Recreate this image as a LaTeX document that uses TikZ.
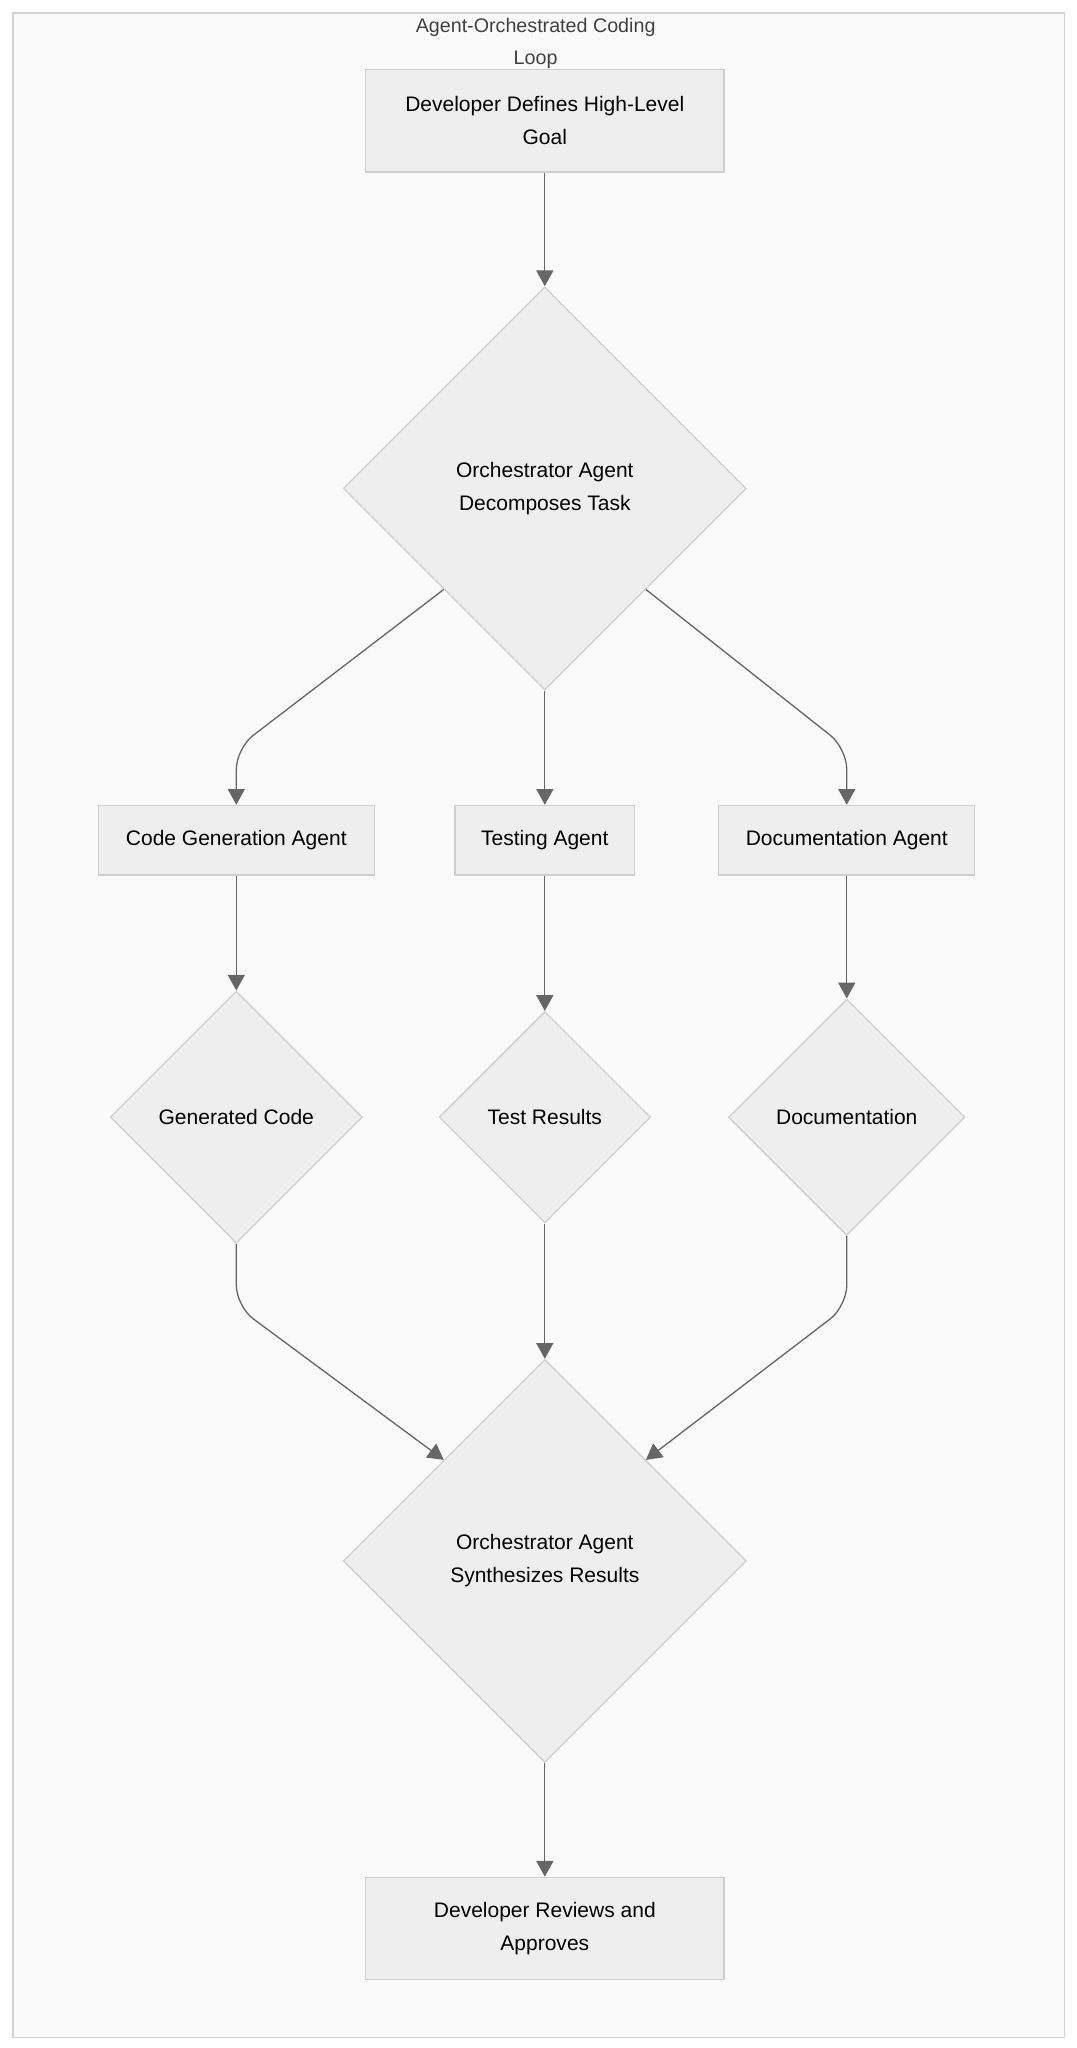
\documentclass[tikz,border=0pt]{standalone}
\usepackage{fontspec}
\setmainfont{Liberation Sans}
\usetikzlibrary{arrows.meta,positioning,shapes.geometric}
\definecolor{nodefill}{HTML}{EEEEEE}
\definecolor{nodeline}{HTML}{CFCFCF}
\definecolor{edgecol}{HTML}{666666}
\tikzset{
  box/.style={draw=nodeline,fill=nodefill,line width=1pt,align=center,inner sep=0pt},
  dia/.style={diamond,draw=nodeline,fill=nodefill,line width=1pt,align=center,inner sep=0pt,aspect=1},
  flow/.style={draw=edgecol,line width=1pt,rounded corners=16,-{Triangle[length=12pt,width=13pt]}}
}
\begin{document}
\begin{tikzpicture}[x=1pt,y=-1pt,font=\fontsize{16}{25}\selectfont]
% frame
\fill[white] (0,0) rectangle (820,1560);
\useasboundingbox (0,0) rectangle (820,1560);
\draw[fill=black!2,draw=black!18,line width=1pt] (10,10) rectangle (811,1552);
\node[align=center,text=black!75,font=\fontsize{15}{25}\selectfont] (title) at (408,33) {Agent-Orchestrated Coding\\Loop};
% nodes
\node[box,minimum width=273pt,minimum height=78pt] (goal) at (415,92) {Developer Defines High-Level\\Goal};
\node[dia,minimum width=307pt,minimum height=307pt] (decomp) at (415,372) {Orchestrator Agent\\ Decomposes Task};
\node[box,minimum width=210pt,minimum height=53pt] (codegen) at (180,640) {Code Generation Agent};
\node[box,minimum width=137pt,minimum height=53pt] (testing) at (415,640) {Testing Agent};
\node[box,minimum width=195pt,minimum height=53pt] (docs) at (645,640) {Documentation Agent};
\node[dia,minimum width=192pt,minimum height=192pt] (gencode) at (180,851) {Generated Code};
\node[dia,minimum width=161pt,minimum height=161pt] (results) at (415,851) {Test Results};
\node[dia,minimum width=180pt,minimum height=180pt] (docout) at (645,851) {Documentation};
\node[dia,minimum width=307pt,minimum height=307pt] (synth) at (415,1189) {Orchestrator Agent\\ Synthesizes Results};
\node[box,minimum width=273pt,minimum height=78pt] (review) at (415,1469) {Developer Reviews and\\ Approves};
% bends
\coordinate (bl1) at (180,570);
\coordinate (br1) at (645,570);
\coordinate (bl2) at (180,995);
\coordinate (br2) at (645,995);
% edges
\draw[flow] (goal) -- (decomp);
\draw[flow] (decomp.south west) -- (bl1) -- (codegen);
\draw[flow] (decomp) -- (testing);
\draw[flow] (decomp.south east) -- (br1) -- (docs);
\draw[flow] (codegen) -- (gencode);
\draw[flow] (testing) -- (results);
\draw[flow] (docs) -- (docout);
\draw[flow] (gencode.south) -- (bl2) -- (synth.north west);
\draw[flow] (results) -- (synth);
\draw[flow] (docout.south) -- (br2) -- (synth.north east);
\draw[flow] (synth) -- (review);
\end{tikzpicture}
\end{document}
